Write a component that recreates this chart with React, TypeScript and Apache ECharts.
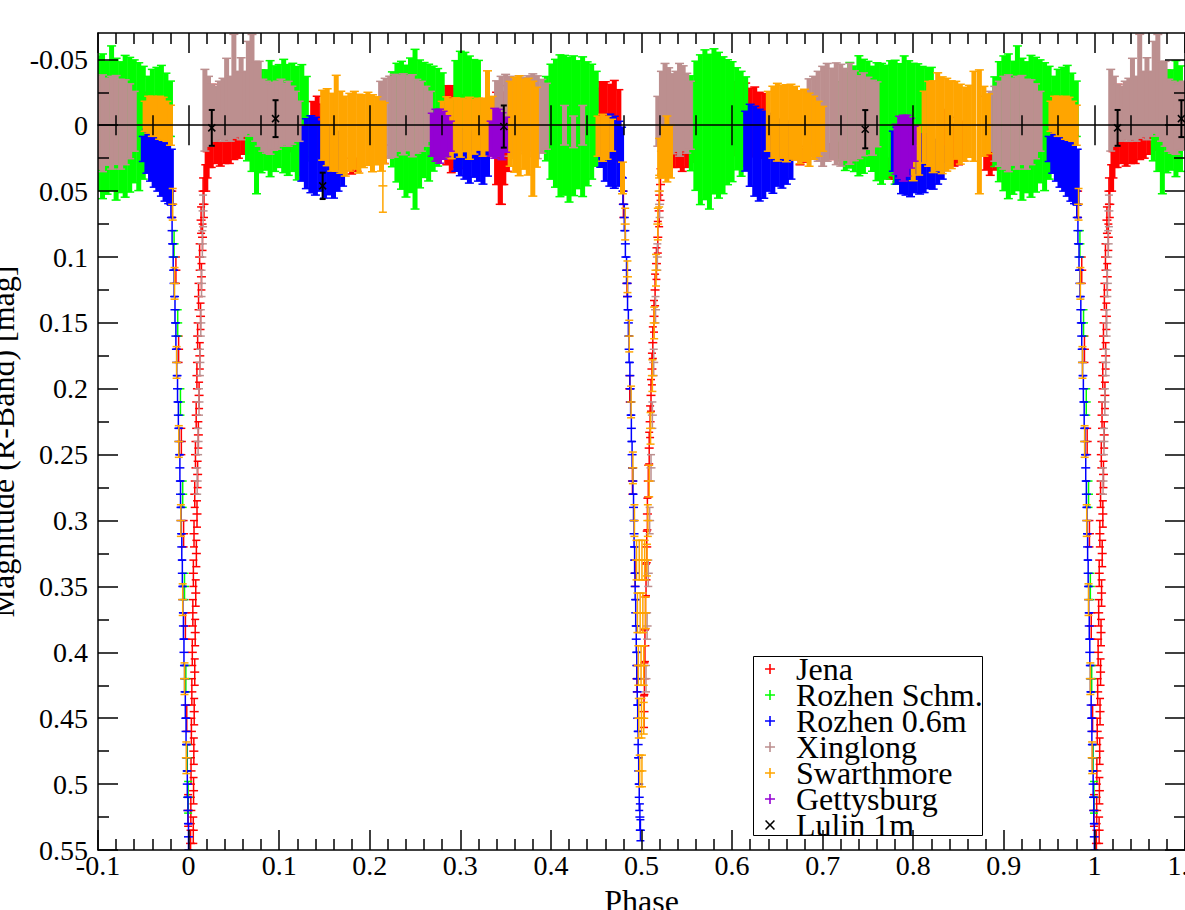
import React, { useEffect, useRef } from "react";
import * as echarts from "echarts";

// Each row: [phase, magnitude, error]
const jena: number[][] = [
  [0.0022,0.545,0.010],[0.0052,0.535,0.010],[0.0025,0.520,0.010],[0.0055,0.505,0.010],[0.0027,0.490,0.010],[0.0058,0.475,0.010],[0.0031,0.460,0.010],[0.0062,0.445,0.010],[0.0036,0.430,0.010],[0.0068,0.415,0.010],[0.0041,0.400,0.010],[0.0073,0.385,0.010],[0.0047,0.370,0.010],[0.0079,0.355,0.010],[0.0053,0.340,0.010],[0.0086,0.325,0.010],[0.0060,0.310,0.010],[0.0093,0.295,0.010],[0.0068,0.280,0.010],[0.0100,0.265,0.010],[0.0076,0.250,0.010],[0.0108,0.235,0.010],[0.0084,0.220,0.010],[0.0116,0.205,0.010],[0.0092,0.190,0.010],[0.0124,0.175,0.010],[0.0100,0.160,0.010],[0.0132,0.145,0.010],[0.0110,0.130,0.010],[0.0142,0.115,0.010],[0.0122,0.100,0.010],[0.0154,0.085,0.010],[0.0138,0.072,0.010],[0.0170,0.060,0.010],[0.0160,0.050,0.010],[0.0190,0.040,0.010],[0.0205,0.030,0.010],[0.0225,0.022,0.010],
  [0.025,0.022,0.010],[0.030,0.020,0.009],[0.035,0.022,0.009],[0.040,0.019,0.010],[0.045,0.020,0.009],[0.050,0.018,0.008],[0.055,0.017,0.008],[0.060,0.015,0.007],[0.065,0.013,0.006],[0.026,-0.025,0.006],
  [0.114,0.014,0.006],[0.137,0.003,0.021],[0.142,0.001,0.023],[0.147,0.004,0.020],[0.180,0.031,0.006],[0.186,0.030,0.005],[0.216,0.022,0.007],
  [0.285,0.000,0.030],[0.290,0.003,0.033],[0.295,0.002,0.030],[0.300,0.005,0.028],
  [0.340,0.010,0.035],[0.344,0.015,0.045],[0.346,0.045,0.015],[0.348,0.010,0.035],[0.352,0.005,0.030],
  [0.450,-0.002,0.026],[0.455,-0.004,0.029],[0.460,-0.003,0.030],[0.465,-0.002,0.029],[0.470,-0.004,0.030],[0.475,0.000,0.027],
  [0.480,0.06,0.01],[0.484,0.12,0.01],[0.487,0.20,0.01],[0.490,0.27,0.01],[0.493,0.34,0.01],[0.495,0.42,0.01],
  [0.5028,0.445,0.012],[0.5032,0.42,0.012],[0.5038,0.395,0.012],[0.5044,0.37,0.012],[0.505,0.345,0.012],[0.5058,0.32,0.012],[0.5065,0.295,0.012],[0.5075,0.27,0.012],[0.5085,0.245,0.012],[0.5095,0.225,0.012],[0.5105,0.205,0.012],[0.5115,0.185,0.012],[0.5125,0.165,0.012],[0.5138,0.145,0.012],[0.515,0.125,0.012],[0.5165,0.105,0.012],[0.518,0.085,0.012],[0.5195,0.065,0.012],[0.521,0.045,0.012],[0.5225,0.025,0.012],
  [0.535,0.022,0.01],[0.540,0.022,0.01],[0.545,0.025,0.01],[0.550,0.022,0.01],[0.555,0.020,0.008],
  [0.605,-0.005,0.028],[0.610,-0.006,0.030],[0.615,-0.004,0.028],[0.620,-0.002,0.026],[0.625,-0.003,0.026],[0.630,0.000,0.025],[0.635,0.000,0.024],
  [0.675,0.024,0.006],[0.681,0.022,0.006],[0.710,0.020,0.006],[0.716,0.019,0.006],[0.775,0.033,0.008],[0.782,0.035,0.008],[0.835,0.008,0.020],[0.840,0.012,0.018],[0.845,0.015,0.016],[0.850,0.015,0.015],[0.855,0.012,0.015],[0.880,0.006,0.028],[0.885,0.008,0.030],[0.890,0.005,0.029],[0.895,0.004,0.025],[0.955,0.000,0.025],
  [0.982,0.06,0.01],[0.986,0.11,0.01],[0.989,0.17,0.01],[0.992,0.24,0.01],[0.9945,0.31,0.01],[0.9965,0.38,0.01],[0.998,0.45,0.01],[0.9995,0.52,0.012],
];

const rozhenSchm: number[][] = [
  [0.065,-0.005,0.032],[0.070,-0.005,0.040],[0.075,0.0025,0.0495],[0.080,-0.003,0.039],[0.085,-0.004,0.038],[0.090,-0.005,0.044],[0.095,-0.005,0.040],[0.100,-0.007,0.039],[0.105,-0.007,0.043],[0.110,-0.004,0.042],[0.115,-0.006,0.041],[0.120,-0.0015,0.043],[0.125,-0.004,0.042],[0.130,-0.005,0.032],
  [0.225,-0.0045,0.036],[0.230,-0.002,0.045],[0.235,0.0,0.0485],[0.240,0.0045,0.050],[0.245,0.0,0.051],[0.250,0.003,0.0606],[0.255,-0.001,0.0485],[0.260,-0.004,0.0436],[0.265,-0.002,0.0443],[0.270,-0.005,0.0398],[0.275,-0.006,0.037],[0.280,-0.0075,0.0322],
  [0.295,-0.015,0.034],[0.300,-0.0144,0.0417],[0.305,-0.0125,0.0428],[0.310,-0.0125,0.040],[0.315,-0.015,0.0348],[0.320,-0.0189,0.0303],
  [0.395,-0.005,0.032],[0.400,-0.0027,0.0436],[0.405,-0.0015,0.0485],[0.410,0.0004,0.0538],[0.415,0.0,0.053],[0.420,0.0034,0.0549],[0.425,0.0004,0.053],[0.430,-0.0004,0.0485],[0.435,0.0011,0.053],[0.440,-0.0011,0.047],[0.445,-0.0027,0.0436],[0.450,-0.0049,0.036],
  [0.555,-0.0015,0.036],[0.560,0.0004,0.049],[0.565,0.0034,0.0568],[0.570,-0.0004,0.0568],[0.575,0.0049,0.0587],[0.580,-0.003,0.055],[0.585,0.0,0.0553],[0.590,0.0,0.0519],[0.595,-0.0023,0.0474],[0.600,-0.0027,0.0455],[0.605,-0.0049,0.0387],[0.610,-0.0011,0.0398],[0.615,-0.0027,0.034],
  [0.720,-0.003,0.030],[0.725,-0.0027,0.037],[0.730,-0.0076,0.040],[0.735,-0.0049,0.040],[0.740,-0.0072,0.0455],[0.745,-0.0068,0.0432],[0.750,-0.0087,0.0398],[0.755,-0.0049,0.0398],[0.760,-0.0027,0.0447],[0.765,-0.0011,0.0458],[0.770,-0.0023,0.0432],[0.775,-0.0053,0.0436],[0.780,-0.0023,0.047],[0.785,-0.0027,0.044],[0.790,-0.0053,0.0473],[0.795,-0.0072,0.0417],[0.800,-0.0072,0.0398],[0.805,-0.0087,0.0379],[0.810,-0.0106,0.034],[0.815,-0.011,0.0326],[0.820,-0.0155,0.0284],
  [0.890,-0.0027,0.034],[0.895,-0.0027,0.0455],[0.900,-0.0015,0.0511],[0.905,0.0008,0.0549],[0.910,0.0019,0.0504],[0.915,-0.0053,0.0549],[0.920,0.003,0.0538],[0.925,0.0015,0.0496],[0.930,0.0008,0.0538],[0.935,-0.0004,0.0511],[0.940,-0.003,0.0466],[0.945,0.0011,0.0485],[0.950,-0.0019,0.0428],[0.955,-0.0087,0.0284],[0.960,-0.0114,0.031],[0.965,-0.0136,0.0303],[0.970,-0.0159,0.0295],[0.975,-0.013,0.0265],[0.980,-0.0125,0.021],
  [0.984,0.09,0.01],[0.988,0.15,0.01],[0.991,0.21,0.01],[0.9935,0.28,0.01],[0.9955,0.35,0.01],[0.997,0.42,0.01],[0.9985,0.48,0.01],[0.9995,0.51,0.012],
];

const rozhen06: number[][] = [
  [0.125,0.0216,0.0208],[0.130,0.0216,0.0265],[0.135,0.0220,0.0292],[0.140,0.0235,0.0295],[0.145,0.0235,0.0265],[0.150,0.0269,0.0284],[0.155,0.0269,0.0258],[0.160,0.0284,0.0269],[0.165,0.0273,0.0227],[0.170,0.0273,0.0189],
  [0.295,0.0197,0.0152],[0.300,0.0205,0.0178],[0.305,0.0227,0.0182],[0.310,0.0242,0.0197],[0.315,0.0227,0.0167],[0.320,0.0235,0.0189],[0.325,0.0246,0.0201],[0.330,0.0223,0.0163],
  [0.455,0.0167,0.0152],[0.460,0.0189,0.0235],[0.465,0.0189,0.0273],[0.470,0.0205,0.0273],[0.475,0.0216,0.0246],[0.478,0.0205,0.019],
  [0.4795,0.05,0.01],[0.4810,0.07,0.01],[0.4822,0.09,0.01],[0.4835,0.11,0.01],[0.4846,0.13,0.01],[0.4855,0.15,0.01],[0.4863,0.17,0.01],[0.4872,0.19,0.01],[0.4880,0.21,0.01],[0.4888,0.23,0.01],[0.4896,0.25,0.01],[0.4905,0.27,0.01],[0.4912,0.29,0.01],[0.4918,0.31,0.01],[0.4924,0.33,0.01],[0.4930,0.35,0.01],[0.4936,0.37,0.01],[0.4942,0.39,0.01],[0.4948,0.41,0.01],[0.4953,0.43,0.01],[0.4958,0.45,0.01],[0.4963,0.47,0.01],[0.4969,0.49,0.01],[0.4975,0.51,0.01],[0.4982,0.525,0.01],[0.4988,0.535,0.008],
  [0.615,0.0121,0.0227],[0.620,0.0152,0.0311],[0.625,0.0197,0.0341],[0.630,0.0227,0.0348],[0.635,0.0224,0.033],[0.640,0.0205,0.0295],[0.645,0.0224,0.0292],[0.650,0.0208,0.0254],[0.655,0.0223,0.0254],[0.660,0.0208,0.0239],[0.665,0.0208,0.0201],
  [0.778,0.0197,0.0152],[0.782,0.0231,0.0216],[0.787,0.0269,0.025],[0.792,0.0284,0.0246],[0.797,0.0288,0.0254],[0.802,0.0280,0.0231],[0.807,0.0295,0.0227],[0.812,0.0288,0.0223],[0.817,0.0284,0.0197],[0.822,0.0303,0.0182],[0.827,0.0277,0.017],[0.832,0.0284,0.0125],
  [0.950,0.018,0.0095],[0.954,0.0197,0.0167],[0.958,0.0223,0.0201],[0.962,0.0254,0.0216],[0.966,0.0273,0.0227],[0.970,0.0292,0.0246],[0.974,0.0318,0.0258],[0.978,0.0337,0.0258],[0.981,0.0394,0.0212],
  [0.9805,0.06,0.01],[0.9818,0.08,0.01],[0.9830,0.10,0.01],[0.9840,0.12,0.01],[0.9850,0.14,0.01],[0.9860,0.16,0.01],[0.9869,0.18,0.01],[0.9878,0.20,0.01],[0.9887,0.22,0.01],[0.9896,0.24,0.01],[0.9904,0.26,0.01],[0.9911,0.28,0.01],[0.9918,0.30,0.01],[0.9925,0.32,0.01],[0.9931,0.34,0.01],[0.9937,0.36,0.01],[0.9943,0.38,0.01],[0.9949,0.40,0.01],[0.9956,0.42,0.01],[0.9964,0.44,0.01],[0.9972,0.46,0.01],[0.9979,0.48,0.01],[0.9986,0.50,0.01],[0.9993,0.52,0.01],[0.9999,0.54,0.01],
];

const xinglong: number[][] = [
  [0.0095,0.27,0.01],[0.0105,0.24,0.01],[0.0115,0.21,0.01],[0.0125,0.18,0.01],[0.0135,0.15,0.01],[0.0143,0.12,0.01],[0.0152,0.09,0.01],[0.016,0.065,0.012],
  [0.018,-0.0114,0.031],[0.022,-0.0106,0.0265],[0.026,-0.0095,0.0216],[0.030,-0.0087,0.0208],[0.034,-0.0114,0.022],[0.038,-0.0117,0.0239],[0.042,-0.0201,0.0307],[0.046,-0.0125,0.0246],[0.050,-0.0296,0.0394],[0.054,-0.0163,0.0246],[0.058,-0.0201,0.0311],[0.062,-0.0163,0.0246],[0.066,-0.0288,0.0348],[0.070,-0.0303,0.0386],[0.074,-0.0182,0.0303],[0.078,-0.0163,0.0322],[0.082,-0.0076,0.0273],[0.086,-0.0061,0.0273],[0.090,-0.0049,0.0269],[0.094,-0.0068,0.0258],[0.098,-0.0076,0.0258],[0.102,-0.0095,0.0254],[0.106,-0.0087,0.0231],[0.110,-0.0087,0.0246],[0.114,-0.0076,0.022],[0.118,-0.0068,0.0189],[0.122,-0.003,0.0152],
  [0.212,-0.0068,0.0265],[0.217,-0.0061,0.0295],[0.222,-0.0061,0.0311],[0.227,-0.0072,0.0314],[0.232,-0.0091,0.0288],[0.237,-0.0083,0.0307],[0.242,-0.0091,0.0284],[0.247,-0.0072,0.0311],[0.252,-0.0068,0.028],[0.257,-0.0068,0.0265],[0.262,-0.0068,0.0227],[0.267,-0.0068,0.0189],
  [0.340,-0.0072,0.0265],[0.345,-0.0068,0.0303],[0.350,-0.0091,0.0295],[0.355,-0.0068,0.0303],[0.360,-0.0049,0.0299],[0.365,-0.0091,0.0284],[0.370,-0.0072,0.0288],[0.375,-0.0091,0.0284],[0.380,-0.0076,0.0314],[0.385,-0.0061,0.0314],[0.390,-0.0068,0.028],[0.395,-0.0068,0.025],
  [0.415,0.0,0.015],[0.425,0.005,0.012],[0.435,0.0,0.015],
  [0.5200,0.06,0.01],[0.5175,0.10,0.01],[0.5155,0.14,0.01],[0.5135,0.18,0.01],[0.5120,0.22,0.01],[0.5105,0.26,0.01],[0.5090,0.30,0.01],[0.5075,0.34,0.01],[0.5062,0.38,0.01],[0.5050,0.42,0.01],
  [0.518,-0.003,0.0189],[0.522,-0.0106,0.0303],[0.526,-0.0117,0.0352],[0.530,-0.0125,0.0311],[0.534,-0.0087,0.0303],[0.538,-0.0106,0.0303],[0.542,-0.0117,0.0352],[0.546,-0.0129,0.0322],[0.550,-0.0091,0.0303],[0.554,-0.0076,0.0258],
  [0.685,-0.0106,0.0246],[0.690,-0.0068,0.0303],[0.695,-0.0068,0.0341],[0.700,-0.0068,0.0379],[0.705,-0.0098,0.0371],[0.710,-0.0087,0.0345],[0.715,-0.0087,0.0386],[0.720,-0.0076,0.0386],[0.725,-0.0083,0.0348],[0.730,-0.0087,0.0383],[0.735,-0.0072,0.0341],[0.740,-0.0061,0.0314],[0.745,-0.0083,0.0314],[0.750,-0.0091,0.0273],[0.755,-0.0057,0.0284],[0.760,-0.0083,0.0246],
  [0.885,-0.003,0.0227],[0.890,-0.0011,0.0284],[0.895,-0.0011,0.0322],[0.900,-0.0019,0.0352],[0.905,-0.0015,0.0367],[0.910,-0.0027,0.033],[0.915,-0.0019,0.0352],[0.920,-0.004,0.0337],[0.925,-0.0008,0.0341],[0.930,-0.0023,0.0322],[0.935,-0.003,0.0284],[0.940,-0.003,0.0227],
];

const swarthmore: number[][] = [
  [0.148,0.0,0.0265],[0.153,0.0015,0.0292],[0.158,0.0053,0.0295],[0.163,-0.0015,0.0364],[0.168,0.0053,0.0311],[0.173,0.0083,0.0303],[0.178,0.0053,0.0295],[0.183,0.0038,0.0295],[0.188,0.0064,0.0299],[0.193,0.0045,0.0276],[0.198,0.0027,0.0277],[0.203,0.0061,0.0292],[0.208,0.0042,0.0258],[0.213,0.0083,0.0265],[0.2145,0.046,0.020],[0.216,0.0061,0.0231],
  [0.280,0.0008,0.0189],[0.285,0.0011,0.0227],[0.290,0.0027,0.0227],[0.295,0.0,0.0208],[0.300,0.0019,0.0223],[0.305,0.0,0.020],[0.310,0.0023,0.0235],[0.315,0.0011,0.0208],[0.320,-0.0008,0.0197],[0.325,0.0015,0.022],[0.330,-0.011,0.0303],[0.335,-0.003,0.0189],
  [0.355,-0.0011,0.0322],[0.360,-0.0004,0.036],[0.365,0.0004,0.0379],[0.370,-0.0008,0.0341],[0.375,0.0011,0.0367],[0.380,0.0102,0.0436],[0.384,0.0015,0.0303],
  [0.452,0.0083,0.0152],[0.457,0.0095,0.0178],[0.462,0.0095,0.0163],[0.467,0.0076,0.0121],
  [0.479,0.040,0.012],[0.482,0.075,0.012],[0.4845,0.115,0.012],[0.4865,0.160,0.012],[0.4885,0.210,0.012],[0.4905,0.260,0.012],[0.4922,0.300,0.012],
  [0.4945,0.33,0.015],[0.4975,0.33,0.015],[0.5005,0.33,0.015],[0.5035,0.33,0.015],[0.5060,0.33,0.012],
  [0.4955,0.37,0.015],[0.4985,0.37,0.015],[0.5015,0.37,0.015],[0.5045,0.37,0.012],
  [0.4965,0.41,0.015],[0.4995,0.41,0.015],[0.5025,0.41,0.015],
  [0.4970,0.45,0.015],[0.5000,0.45,0.015],[0.5025,0.45,0.012],
  [0.4980,0.49,0.012],[0.5005,0.49,0.012],
  [0.5070,0.30,0.012],[0.5085,0.27,0.012],[0.5100,0.23,0.012],[0.5120,0.19,0.012],[0.5140,0.15,0.012],[0.5160,0.11,0.012],[0.5180,0.075,0.012],[0.5195,0.05,0.012],
  [0.520,0.025,0.015],[0.524,0.020,0.020],[0.528,0.018,0.025],[0.532,0.020,0.020],
  [0.640,-0.003,0.0227],[0.645,-0.0023,0.0273],[0.650,-0.0023,0.0295],[0.655,-0.0027,0.0277],[0.660,-0.0015,0.0292],[0.665,-0.0027,0.0284],[0.670,-0.0015,0.028],[0.675,0.0015,0.0277],[0.680,0.0,0.0273],[0.685,0.0034,0.0277],[0.690,0.0019,0.0239],[0.695,0.0027,0.0208],[0.700,0.0027,0.017],
  [0.800,0.0288,0.0133],[0.806,0.0189,0.0189],[0.812,0.0015,0.0273],[0.817,-0.0011,0.0322],[0.822,0.0011,0.0348],[0.827,-0.0027,0.0371],[0.832,0.0,0.0367],[0.837,-0.0004,0.0352],[0.842,-0.0004,0.0333],[0.847,-0.0038,0.0295],[0.852,-0.0008,0.0303],[0.857,-0.0008,0.028],[0.862,-0.003,0.0273],[0.867,-0.0068,0.0341],[0.873,0.005,0.047],[0.878,-0.003,0.0265],[0.883,-0.0011,0.0227],
  [0.952,-0.0068,0.0114],[0.956,-0.008,0.014],[0.960,-0.0068,0.0152],[0.964,-0.0064,0.0148],[0.968,-0.0057,0.0163],[0.972,-0.0049,0.0163],[0.976,-0.003,0.0152],[0.980,0.0,0.0152],
  [0.9825,0.06,0.012],[0.9845,0.12,0.012],[0.9868,0.18,0.012],[0.9892,0.24,0.012],[0.9915,0.30,0.012],[0.9935,0.36,0.012],[0.9955,0.42,0.012],[0.9975,0.48,0.012],
];

const gettysburg: number[][] = [
  [0.269,0.0072,0.0163],[0.273,0.0076,0.0197],[0.277,0.0083,0.0205],[0.281,0.0076,0.0182],[0.285,0.0083,0.0155],[0.289,0.0083,0.0114],
  [0.334,0.0102,0.0133],[0.338,0.0061,0.0189],[0.342,0.0057,0.0178],[0.346,0.0083,0.0178],[0.350,0.0072,0.0133],
  [0.781,0.0182,0.0189],[0.785,0.0167,0.0235],[0.789,0.0174,0.025],[0.793,0.0155,0.0231],[0.797,0.0136,0.0189],[0.801,0.014,0.0133],
];

const lulin: number[][] = [
  [0.0256,0.002,0.0136],[0.096,-0.005,0.014],[0.148,0.046,0.010],[0.348,0.001,0.016],[0.747,0.003,0.0145],
];

const seriesNames = ["Jena", "Rozhen Schm.", "Rozhen 0.6m", "Xinglong", "Swarthmore", "Gettysburg", "Lulin 1m"];
const seriesColors = ["#ff0000", "#00ff00", "#0000ff", "#bc8f8f", "#ffa500", "#9400d3", "#000000"];
const seriesData = [jena, rozhenSchm, rozhen06, xinglong, swarthmore, gettysburg, lulin];

const yMajorTicks = [-0.05, 0, 0.05, 0.1, 0.15, 0.2, 0.25, 0.3, 0.35, 0.4, 0.45, 0.5, 0.55];
const yMinorTicks = [-0.025, 0.025, 0.075, 0.125, 0.175, 0.225, 0.275, 0.325, 0.375, 0.425, 0.475, 0.525];
const zeroMajorTicks = [0, 0.2, 0.4, 0.6, 0.8, 1.0];
const zeroMinorTicks = [-0.08, -0.04, 0.04, 0.08, 0.12, 0.16, 0.24, 0.28, 0.32, 0.36, 0.44, 0.48, 0.52, 0.56, 0.64, 0.68, 0.72, 0.76, 0.84, 0.88, 0.92, 0.96, 1.04, 1.08];

const FONT = "Liberation Serif";
const PLUS_ICON = "path://M4.2,0H5.8V4.2H10V5.8H5.8V10H4.2V5.8H0V4.2H4.2Z";
const CROSS_ICON = "path://M1.1,0L5,3.9L8.9,0L10,1.1L6.1,5L10,8.9L8.9,10L5,6.1L1.1,10L0,8.9L3.9,5L0,1.1Z";

// phase folding: the light curve is shown over -0.1 .. 1.1
function fold(rows: number[][]): number[][] {
  const out = rows.slice();
  rows.forEach(([p, m, e]) => {
    if (p >= 0.9) out.push([p - 1, m, e]);
    if (p < 0.1) out.push([p + 1, m, e]);
  });
  return out;
}

function seg(x1: number, y1: number, x2: number, y2: number, color: string, w: number) {
  return { type: "line", shape: { x1, y1, x2, y2 }, style: { stroke: color, lineWidth: w } };
}

function makeRenderer(color: string, isCross: boolean) {
  return (_params: any, api: any) => {
    const p = api.value(0);
    const m = api.value(1);
    const e = api.value(2);
    const top = api.coord([p, m - e]);
    const bot = api.coord([p, m + e]);
    const mid = api.coord([p, m]);
    const x = mid[0];
    const children: any[] = [];
    if (isCross) {
      children.push(seg(x, top[1], x, bot[1], color, 2));
      children.push(seg(x - 3, top[1], x + 3, top[1], color, 2));
      children.push(seg(x - 3, bot[1], x + 3, bot[1], color, 2));
      children.push(seg(x - 3.5, mid[1] - 3.5, x + 3.5, mid[1] + 3.5, color, 1.5));
      children.push(seg(x - 3.5, mid[1] + 3.5, x + 3.5, mid[1] - 3.5, color, 1.5));
    } else if (m < 0.045) {
      children.push(seg(x, top[1], x, bot[1], color, 5));
      children.push(seg(x - 4.5, top[1], x + 4.5, top[1], color, 1.5));
      children.push(seg(x - 4.5, bot[1], x + 4.5, bot[1], color, 1.5));
    } else {
      children.push(seg(x, top[1], x, bot[1], color, 1.5));
      children.push(seg(x - 4, top[1], x + 4, top[1], color, 1.5));
      children.push(seg(x - 4, bot[1], x + 4, bot[1], color, 1.5));
      children.push(seg(x - 4.5, mid[1], x + 4.5, mid[1], color, 1.5));
    }
    return { type: "group", children };
  };
}

const axisLineStyle = { color: "#000", width: 1.5 };

export default function App() {
  const ref = useRef<HTMLDivElement>(null);
  useEffect(() => {
    if (!ref.current) return;
    const chart = echarts.init(ref.current, undefined, { renderer: "svg" });
    const commonX = { type: "value", min: -0.1, max: 1.1, splitLine: { show: false }, z: 10 };
    const commonY = { type: "value", min: -0.07, max: 0.55, inverse: true, splitLine: { show: false }, z: 10 };
    const option: any = {
      animation: false,
      backgroundColor: "#fff",
      grid: { left: 98, top: 33, width: 1087, height: 817, containLabel: false, outerBoundsMode: "none" },
      xAxis: [
        {
          ...commonX, position: "bottom", interval: 0.1,
          axisLine: { onZero: false, lineStyle: axisLineStyle },
          axisTick: { inside: true, length: 20, lineStyle: axisLineStyle },
          minorTick: { show: true, splitNumber: 5, length: 11, lineStyle: axisLineStyle },
          axisLabel: { color: "#000", fontFamily: FONT, fontSize: 28, margin: 1, formatter: (v: number) => `${+v.toFixed(2)}` },
          name: "Phase", nameLocation: "middle", nameGap: 35,
          nameTextStyle: { color: "#000", fontFamily: FONT, fontSize: 32 },
        },
        {
          ...commonX, position: "top", interval: 0.1,
          axisLine: { onZero: false, lineStyle: axisLineStyle },
          axisTick: { inside: true, length: 20, lineStyle: axisLineStyle },
          minorTick: { show: true, splitNumber: 5, length: 11, lineStyle: axisLineStyle },
          axisLabel: { show: false },
        },
        {
          ...commonX, position: "bottom",
          axisLine: { onZero: true, onZeroAxisIndex: 0, lineStyle: axisLineStyle },
          axisTick: { customValues: zeroMajorTicks, inside: true, length: 20, lineStyle: axisLineStyle },
          axisLabel: { show: false },
        },
        {
          ...commonX, position: "bottom",
          axisLine: { show: false, onZero: true, onZeroAxisIndex: 0 },
          axisTick: { customValues: zeroMajorTicks, inside: false, length: 20, lineStyle: axisLineStyle },
          axisLabel: { show: false },
        },
        {
          ...commonX, position: "bottom",
          axisLine: { show: false, onZero: true, onZeroAxisIndex: 0 },
          axisTick: { customValues: zeroMinorTicks, inside: true, length: 10, lineStyle: axisLineStyle },
          axisLabel: { show: false },
        },
        {
          ...commonX, position: "bottom",
          axisLine: { show: false, onZero: true, onZeroAxisIndex: 0 },
          axisTick: { customValues: zeroMinorTicks, inside: false, length: 10, lineStyle: axisLineStyle },
          axisLabel: { show: false },
        },
      ],
      yAxis: [
        {
          ...commonY, position: "left",
          axisLine: { onZero: false, lineStyle: axisLineStyle },
          axisTick: { customValues: yMajorTicks, inside: true, length: 20, lineStyle: axisLineStyle },
          axisLabel: { customValues: yMajorTicks, color: "#000", fontFamily: FONT, fontSize: 28, margin: 10, formatter: (v: number) => `${+v.toFixed(3)}` },
          name: "Magnitude (R-Band) [mag]", nameLocation: "middle", nameGap: 77,
          nameTextStyle: { color: "#000", fontFamily: FONT, fontSize: 32 },
        },
        {
          ...commonY, position: "left",
          axisLine: { show: false, onZero: false },
          axisTick: { customValues: yMinorTicks, inside: true, length: 11, lineStyle: axisLineStyle },
          axisLabel: { show: false },
        },
        {
          ...commonY, position: "right",
          axisLine: { onZero: false, lineStyle: axisLineStyle },
          axisTick: { customValues: yMajorTicks, inside: true, length: 20, lineStyle: axisLineStyle },
          axisLabel: { show: false },
        },
        {
          ...commonY, position: "right",
          axisLine: { show: false, onZero: false },
          axisTick: { customValues: yMinorTicks, inside: true, length: 11, lineStyle: axisLineStyle },
          axisLabel: { show: false },
        },
      ],
      legend: {
        orient: "vertical", left: 765, top: 653, padding: 0, itemGap: -6,
        itemWidth: 10, itemHeight: 10, selectedMode: false,
        data: seriesNames.map((name, i) => ({
          name, icon: i === 6 ? CROSS_ICON : PLUS_ICON, itemStyle: { color: seriesColors[i] },
        })),
        formatter: "{t|{name}}",
        textStyle: {
          rich: { t: { fontFamily: FONT, fontSize: 32, color: "#000", padding: [0, 0, 0, 16] } },
        },
      },
      graphic: [
        {
          type: "rect", z: 3,
          shape: { x: 753.5, y: 656.5, width: 229, height: 179 },
          style: { fill: "none", stroke: "#000", lineWidth: 1 },
        },
      ],
      series: seriesNames.map((name, i) => ({
        type: "custom",
        name,
        xAxisIndex: 0,
        yAxisIndex: 0,
        silent: true,
        clip: true,
        itemStyle: { color: seriesColors[i] },
        encode: { x: 0, y: 1 },
        data: fold(seriesData[i]),
        renderItem: makeRenderer(seriesColors[i], i === 6),
      })),
    };
    chart.setOption(option);
    return () => chart.dispose();
  }, []);
  return <div ref={ref} style={{ position: "absolute", left: 0, top: 0, width: 1185, height: 910 }} />;
}
